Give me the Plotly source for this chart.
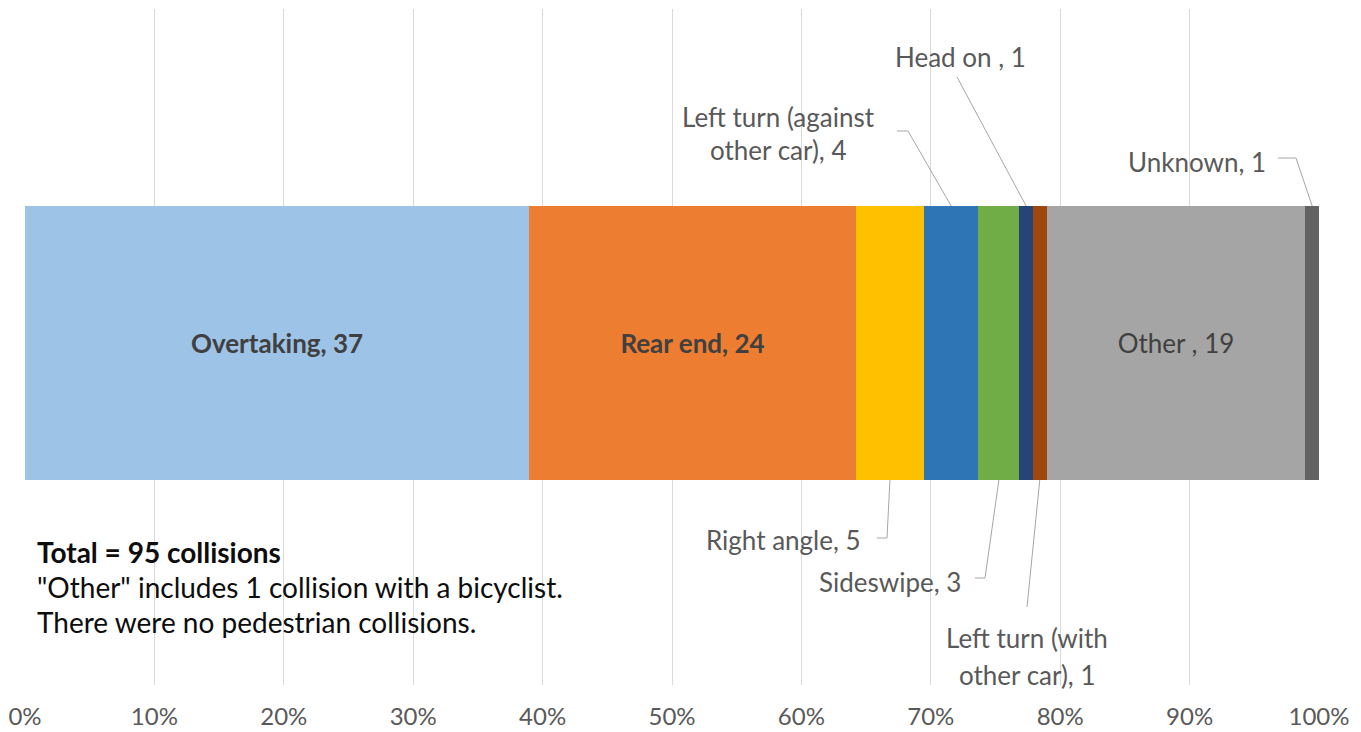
import plotly.graph_objects as go

categories = ["Overtaking", "Rear end", "Right angle", "Left turn (against other car)",
              "Sideswipe", "Head on", "Left turn (with other car)", "Other", "Unknown"]
counts = [37, 24, 5, 4, 3, 1, 1, 19, 1]
colors = ["#9DC3E6", "#ED7D31", "#FFC000", "#2E75B6", "#70AD47",
          "#264478", "#9E480E", "#A5A5A5", "#636363"]
inside_labels = ["<b>Overtaking, 37</b>", "<b>Rear end, 24</b>", "", "", "", "", "", "Other , 19", ""]
tick_vals = [0, 10, 20, 30, 40, 50, 60, 70, 80, 90, 100]
tick_text = ["0%", "10%", "20%", "30%", "40%", "50%", "60%", "70%", "80%", "90%", "100%"]

FONT = "Lato"
FS = 26
TXT = "#595959"

total = sum(counts)
pct = [c / total * 100 for c in counts]
starts = []
acc = 0
for p in pct:
    starts.append(acc)
    acc += p
mids = [s + p / 2 for s, p in zip(starts, pct)]

fig = go.Figure()
for cat, p, col, lab in zip(categories, pct, colors, inside_labels):
    fig.add_trace(go.Bar(
        y=[0], x=[p], orientation="h", name=cat, width=1,
        marker=dict(color=col, line=dict(width=0)),
        text=[lab], textposition="inside", insidetextanchor="middle",
        textfont=dict(family=FONT, size=FS, color="#404040"),
        constraintext="none",
        hoverinfo="name+x",
    ))

# page geometry (pixels); the page body margin is removed so figure == page
W, HT = 1361, 732
L, R, T, B = 25, 1319, 9, 685
BAR_T, BAR_B = 206, 480

def px(xpix):
    return (xpix - L) / (R - L) * 100
def py(ypix):
    return (B - ypix) / (B - T)

bar_top = py(BAR_T)
bar_bot = py(BAR_B)

idx = {c: i for i, c in enumerate(categories)}

callouts = [
    ("Left turn (against other car)", ["Left turn (against", "other car), 4"], 778, [117, 150], [(897, 131), (908, 131)], "top"),
    ("Head on", ["Head on , 1"], 960, [57], [(957, 77)], "top"),
    ("Unknown", ["Unknown, 1"], 1197, [162], [(1278, 158), (1296, 158)], "top"),
    ("Right angle", ["Right angle, 5"], 783, [540], [(877, 538), (887, 538)], "bot"),
    ("Sideswipe", ["Sideswipe, 3"], 890, [582], [(975, 578), (985, 578)], "bot"),
    ("Left turn (with other car)", ["Left turn (with", "other car), 1"], 1027, [638, 675], [(1027, 607)], "bot"),
]

shapes = []
annotations = []
for cat, lines, xc, ys, pts, edge in callouts:
    for line, yv in zip(lines, ys):
        annotations.append(dict(
            x=px(xc), y=py(yv), xref="x", yref="paper", text=line, showarrow=False,
            xanchor="center", yanchor="middle",
            font=dict(family=FONT, size=FS, color=TXT),
        ))
    xs = [px(p[0]) for p in pts] + [mids[idx[cat]]]
    yy = [py(p[1]) for p in pts] + [bar_top if edge == "top" else bar_bot]
    path = "M " + " L ".join(f"{a},{b}" for a, b in zip(xs, yy))
    shapes.append(dict(type="path", path=path, xref="x", yref="paper",
                       line=dict(color="#A6A6A6", width=1)))

notes = [("<b>Total = 95 collisions</b>", 552),
         ("\"Other\" includes 1 collision with a bicyclist.", 587),
         ("There were no pedestrian collisions.", 622)]
for t, yv in notes:
    annotations.append(dict(
        x=px(35), y=py(yv), xref="x", yref="paper", text=t, showarrow=False,
        xanchor="left", yanchor="middle",
        font=dict(family=FONT, size=28, color="#0D0D0D"),
    ))

fig.update_layout(
    barmode="stack",
    width=W, height=HT,
    margin=dict(l=L, r=W - R, t=T, b=HT - B, autoexpand=False),
    paper_bgcolor="white", plot_bgcolor="white",
    showlegend=False,
    bargap=0,
    uniformtext=dict(mode=False),
    shapes=shapes,
    annotations=annotations,
    xaxis=dict(range=[0, 100], tickvals=tick_vals, ticktext=tick_text,
               showgrid=True, gridcolor="#D9D9D9", gridwidth=1,
               zeroline=False, showline=False, ticks="",
               ticklabelstandoff=15, automargin=False,
               tickfont=dict(family=FONT, size=24, color=TXT), fixedrange=True),
    yaxis=dict(range=[-0.5 - (B - BAR_B) / (BAR_B - BAR_T), 0.5 + (BAR_T - T) / (BAR_B - BAR_T)],
               visible=False, fixedrange=True),
)

fig.write_html("out.html",
               config={"displayModeBar": False},
               post_script="document.body.style.margin='0';document.body.style.overflow='hidden';")
